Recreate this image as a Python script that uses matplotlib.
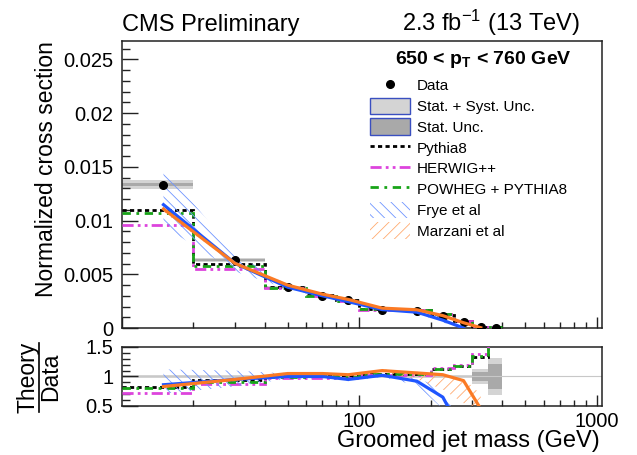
import numpy as np
import matplotlib
matplotlib.use('Agg')
import matplotlib.pyplot as plt
import matplotlib.lines as mlines
import matplotlib.patches as mpatches
from matplotlib.ticker import MultipleLocator, FixedLocator, NullFormatter


plt.rcParams['font.family'] = ['Liberation Sans', 'DejaVu Sans']
plt.rcParams['mathtext.fontset'] = 'custom'
plt.rcParams['mathtext.rm'] = 'Liberation Sans'
plt.rcParams['mathtext.it'] = 'Liberation Sans:italic'
plt.rcParams['mathtext.bf'] = 'Liberation Sans:bold'
plt.rcParams['hatch.linewidth'] = 0.6

BLUE = '#1f55ff'
ORANGE = '#fb7a24'
HATCH_BLUE = '#6f95ff'
HATCH_ORANGE = '#ffaa70'
MAGENTA = '#dd44dd'
GREEN = '#18a418'
LIGHT_GRAY = '#d4d4d4'
DARK_GRAY = '#a9a9a9'

# binning (GeV)
edges = [10, 20, 40, 60, 80, 100, 150, 200, 250, 300, 350, 400]
centers = [15, 30, 50, 70, 90, 125, 175, 225, 275, 325, 375]

# unfolded data, normalized cross section
data = [0.01334, 0.00633, 0.00380, 0.00300, 0.00258, 0.00168, 0.00160,
        0.00112, 0.00053, 0.00006, 0.00003]
unc_tot = [0.03, 0.03, 0.03, 0.03, 0.03, 0.03, 0.03, 0.03, 0.03, 0.12, 0.32]
unc_stat = [0.012, 0.012, 0.012, 0.012, 0.012, 0.012, 0.012, 0.012, 0.012,
            0.07, 0.21]

# MC / data per bin
pythia_ratio = [0.82, 0.935, 1.0, 1.02, 1.0, 1.05, 1.04, 1.12, 1.17, 1.33, 1.7]
herwig_ratio = [0.72, 0.87, 0.97, 0.98, 0.98, 1.02, 1.03, 1.14, 1.19, 1.38, 1.8]
powheg_ratio = [0.80, 0.91, 0.99, 1.0, 0.99, 1.04, 1.04, 1.13, 1.18, 1.35, 1.75]

# analytic calculations / data at bin centres
frye_ratio = [0.86, 0.95, 1.0, 1.0, 0.95, 1.02, 0.92, 0.65, 0.0]
frye_lo = [0.71, 0.83, 0.96, 0.97, 0.92, 0.99, 0.85, 0.45, 0.0]
frye_hi = [1.12, 1.10, 1.05, 1.03, 0.98, 1.05, 0.97, 0.80, 0.30]
marzani_ratio = [0.83, 0.95, 1.05, 1.05, 1.03, 1.10, 1.06, 1.03, 0.93, 0.45]
marzani_lo = [0.81, 0.93, 1.03, 1.03, 1.01, 1.08, 0.95, 0.78, 0.55, 0.30]
marzani_hi = [0.85, 0.97, 1.07, 1.07, 1.05, 1.12, 1.08, 1.04, 0.96, 0.70]

edges = np.array(edges, dtype=float)
centers = np.array(centers, dtype=float)
data = np.array(data)
lefts = edges[:-1]
widths = np.diff(edges)

fig = plt.figure(figsize=(6.37, 4.55), dpi=100)
ax = fig.add_axes([0.191, 0.2791, 0.7536, 0.6308])
rax = fig.add_axes([0.191, 0.1077, 0.7536, 0.1297])

# ---- main panel
tot = np.array(unc_tot)
stat = np.array(unc_stat)
ax.bar(lefts, 2 * tot * data, widths, data * (1 - tot), align='edge',
       color=LIGHT_GRAY, linewidth=0, zorder=1)
ax.bar(lefts, 2 * stat * data, widths, data * (1 - stat), align='edge',
       color=DARK_GRAY, linewidth=0, zorder=1)

ax.stairs(np.array(pythia_ratio) * data, edges, baseline=None, color='k',
          lw=2.0, ls=(0, (1.5, 1.2)), zorder=3)
ax.stairs(np.array(herwig_ratio) * data, edges, baseline=None,
          color=MAGENTA, lw=2.0, ls=(0, (4, 1.5, 1, 1.5, 1, 1.5)), zorder=3)
ax.stairs(np.array(powheg_ratio) * data, edges, baseline=None,
          color=GREEN, lw=2.0, ls=(0, (3, 2, 1, 2)), zorder=3)

nf = len(frye_ratio)
nm = len(marzani_ratio)
ax.fill_between(centers[:nf], np.array(frye_lo) * data[:nf],
                np.array(frye_hi) * data[:nf], facecolor='none',
                edgecolor=HATCH_BLUE, hatch='\\\\\\', linewidth=0, zorder=4)
ax.fill_between(centers[:nm], np.array(marzani_lo) * data[:nm],
                np.array(marzani_hi) * data[:nm], facecolor='none',
                edgecolor=HATCH_ORANGE, hatch='///', linewidth=0, zorder=4)
ax.plot(centers[:nf], np.array(frye_ratio) * data[:nf], color=BLUE, lw=2.3,
        zorder=5)
ax.plot(centers[:nm], np.array(marzani_ratio) * data[:nm], color=ORANGE,
        lw=2.3, zorder=6)
ax.plot(centers, data, 'o', color='k', ms=5.5, zorder=4.5)

ax.set_xscale('log')
ax.set_xlim(10, 1050)
ax.set_ylim(0, 0.0267)
ax.yaxis.set_major_locator(MultipleLocator(0.005))
ax.yaxis.set_minor_locator(MultipleLocator(0.001))
ax.set_yticks([0, 0.005, 0.01, 0.015, 0.02, 0.025])
ax.set_yticklabels(['0', '0.005', '0.01', '0.015', '0.02', '0.025'])
ax.xaxis.set_major_formatter(NullFormatter())
ax.xaxis.set_minor_formatter(NullFormatter())

# ---- ratio panel
rax.bar(lefts, 2 * tot, widths, 1 - tot, align='edge', color=LIGHT_GRAY,
        linewidth=0, zorder=1)
rax.bar(lefts, 2 * stat, widths, 1 - stat, align='edge', color=DARK_GRAY,
        linewidth=0, zorder=1)
rax.axhline(1, color='#c8c8c8', lw=0.8, zorder=1.5)
rax.stairs(pythia_ratio, edges, baseline=None, color='k', lw=2.0,
           ls=(0, (1.5, 1.2)), zorder=3)
rax.stairs(herwig_ratio, edges, baseline=None, color=MAGENTA, lw=2.0,
           ls=(0, (4, 1.5, 1, 1.5, 1, 1.5)), zorder=3)
rax.stairs(powheg_ratio, edges, baseline=None, color=GREEN, lw=2.0,
           ls=(0, (3, 2, 1, 2)), zorder=3)
rax.fill_between(centers[:nf], frye_lo, frye_hi, facecolor='none',
                 edgecolor=HATCH_BLUE, hatch='\\\\\\', linewidth=0, zorder=4)
rax.fill_between(centers[:nm], marzani_lo, marzani_hi, facecolor='none',
                 edgecolor=HATCH_ORANGE, hatch='///', linewidth=0, zorder=4)
rax.plot(centers[:nf], frye_ratio, color=BLUE, lw=2.3, zorder=5)
rax.plot(centers[:nm], marzani_ratio, color=ORANGE, lw=2.3, zorder=6)

rax.set_xscale('log')
rax.set_xlim(10, 1050)
rax.set_ylim(0.5, 1.5)
rax.set_yticks([0.5, 1, 1.5])
rax.set_yticklabels(['0.5', '1', '1.5'])
rax.yaxis.set_minor_locator(MultipleLocator(0.1))
rax.xaxis.set_major_locator(FixedLocator([100, 1000]))
rax.set_xticklabels(['100', '1000'])
rax.xaxis.set_minor_formatter(NullFormatter())

for a in (ax, rax):
    for s in a.spines.values():
        s.set_linewidth(1.1)
        s.set_color('#222222')
    a.tick_params(which='both', direction='in', top=False, right=False,
                  width=1.0, color='#222222')
    a.tick_params(axis='y', which='major', length=11.5, labelsize=14.5,
                  pad=6)
    a.tick_params(axis='y', which='minor', length=6)
    a.tick_params(axis='x', which='major', length=8, labelsize=14.5, pad=4)
    a.tick_params(axis='x', which='minor', length=4.5)

# ---- legend
handles = [
    mlines.Line2D([], [], color='k', marker='o', ms=5.5, ls='None'),
    mpatches.Patch(facecolor=LIGHT_GRAY, edgecolor='#3a4fc0', lw=1.0),
    mpatches.Patch(facecolor=DARK_GRAY, edgecolor='#3a4fc0', lw=1.0),
    mlines.Line2D([], [], color='k', lw=2.0, ls=(0, (1.5, 1.2))),
    mlines.Line2D([], [], color=MAGENTA, lw=2.0,
                  ls=(0, (4, 1.5, 1, 1.5, 1, 1.5))),
    mlines.Line2D([], [], color=GREEN, lw=2.0, ls=(0, (3, 2, 1, 2))),
    mpatches.Patch(facecolor='none', edgecolor=HATCH_BLUE, hatch='\\\\\\',
                   lw=0),
    mpatches.Patch(facecolor='none', edgecolor=HATCH_ORANGE, hatch='///',
                   lw=0),
]
labels = ['Data', 'Stat. + Syst. Unc.', 'Stat. Unc.', 'Pythia8', 'HERWIG++',
          'POWHEG + PYTHIA8', 'Frye et al', 'Marzani et al']
ax.legend(handles, labels, loc='upper left', bbox_to_anchor=(0.517, 0.875),
          frameon=False, fontsize=11, handlelength=2.6, handleheight=1.3,
          handletextpad=0.5, labelspacing=0.27, borderpad=0, borderaxespad=0)

ax.text(0.938, 0.935, r'650 < $\mathbf{p}_{\mathbf{T}}$ < 760 GeV',
        transform=ax.transAxes, ha='right', va='center', fontsize=14,
        fontweight='bold')

# ---- labels
fig.text(122 / 637, 1 - 31 / 455, 'CMS Preliminary', fontsize=17,
         ha='left', va='baseline')
fig.text(580 / 637, 1 - 31 / 455, r'2.3 fb$^{-1}$ (13 TeV)', fontsize=17,
         ha='right', va='baseline')
fig.text(47 / 637, 1 - 41 / 455, 'Normalized cross section', fontsize=16.5,
         rotation=90, ha='center', va='top')
fig.text(28 / 637, 1 - 377 / 455, 'Theory', fontsize=16.5, rotation=90,
         ha='center', va='center')
fig.text(51 / 637, 1 - 377 / 455, 'Data', fontsize=16.5, rotation=90,
         ha='center', va='center')
fig.add_artist(mlines.Line2D([39 / 637, 39 / 637],
                             [1 - 343 / 455, 1 - 412 / 455], color='k',
                             lw=1.2))
fig.text(600 / 637, 1 - 447 / 455, 'Groomed jet mass (GeV)', fontsize=17,
         ha='right', va='baseline')

fig.savefig('out.png', dpi=100)
